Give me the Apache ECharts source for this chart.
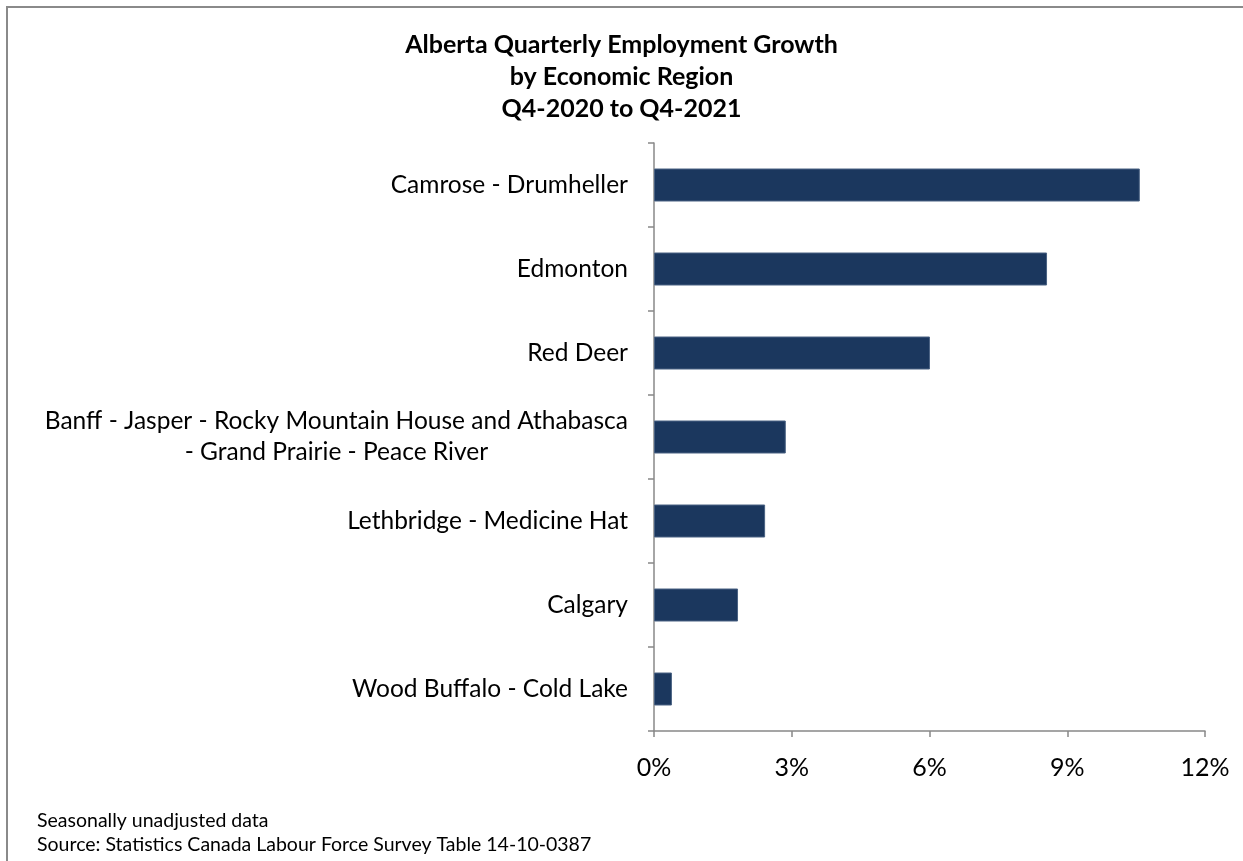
<!DOCTYPE html>
<html>
<head>
<meta charset="utf-8">
<script src="https://cdn.jsdelivr.net/npm/echarts@6/dist/echarts.min.js"></script>
<style>
  html, body { margin: 0; padding: 0; background: #fff; }
  #chart { width: 1243px; height: 861px; }
</style>
</head>
<body>
<div id="chart"></div>
<script>
// regions top to bottom
var regions = [
  'Camrose - Drumheller',
  'Edmonton',
  'Red Deer',
  'Banff - Jasper - Rocky Mountain House and Athabasca\n- Grand Prairie - Peace River',
  'Lethbridge - Medicine Hat',
  'Calgary',
  'Wood Buffalo - Cold Lake'
];
// employment growth, %
var growth = [10.58, 8.56, 6.01, 2.87, 2.42, 1.83, 0.39];

var titleLines = ['Alberta Quarterly Employment Growth', 'by Economic Region', 'Q4-2020 to Q4-2021'];
var notes = ['Seasonally unadjusted data', 'Source: Statistics Canada Labour Force Survey Table 14-10-0387'];

var font = 'Lato, "Open Sans", sans-serif';
var chart = echarts.init(document.getElementById('chart'));

chart.setOption({
  animation: false,
  backgroundColor: '#fff',
  title: {
    text: titleLines.join('\n'),
    left: 'center',
    top: 24,
    textStyle: { fontFamily: font, fontSize: 25, fontWeight: 'bold', color: '#000', lineHeight: 32 }
  },
  graphic: [
    // outer frame (top and left edges visible)
    { type: 'rect', shape: { x: 7, y: 7, width: 1260, height: 880 },
      style: { fill: 'none', stroke: '#8a8a8a', lineWidth: 2 } },
    { type: 'text', left: 37, top: 809,
      style: { text: notes.join('\n'), font: '19.5px ' + font, fill: '#000', lineHeight: 24 } }
  ],
  grid: { left: 654, right: 38, top: 143, bottom: 130, containLabel: false },
  xAxis: {
    type: 'value',
    min: 0, max: 12, interval: 3,
    axisLine: { show: true, lineStyle: { color: '#888', width: 1.5 } },
    axisTick: { show: true, length: 6, lineStyle: { color: '#888', width: 1.5 } },
    splitLine: { show: false },
    axisLabel: { formatter: '{value}%', fontFamily: font, fontSize: 25, color: '#000', margin: 24 }
  },
  yAxis: {
    type: 'category',
    inverse: true,
    data: regions,
    axisLine: { show: true, lineStyle: { color: '#888', width: 1.5 } },
    axisTick: { show: true, length: 6, lineStyle: { color: '#888', width: 1.5 } },
    axisLabel: {
      margin: 26,
      formatter: function (v) {
        return v.split('\n').map(function (s) { return '{c|' + s + '}'; }).join('\n');
      },
      rich: { c: { fontFamily: font, fontSize: 24.5, color: '#000', align: 'center', lineHeight: 31 } }
    }
  },
  series: [{
    type: 'bar',
    data: growth,
    barWidth: 33,
    itemStyle: { color: '#1b375e', borderColor: '#4a6283', borderWidth: 1 }
  }]
});
</script>
</body>
</html>
